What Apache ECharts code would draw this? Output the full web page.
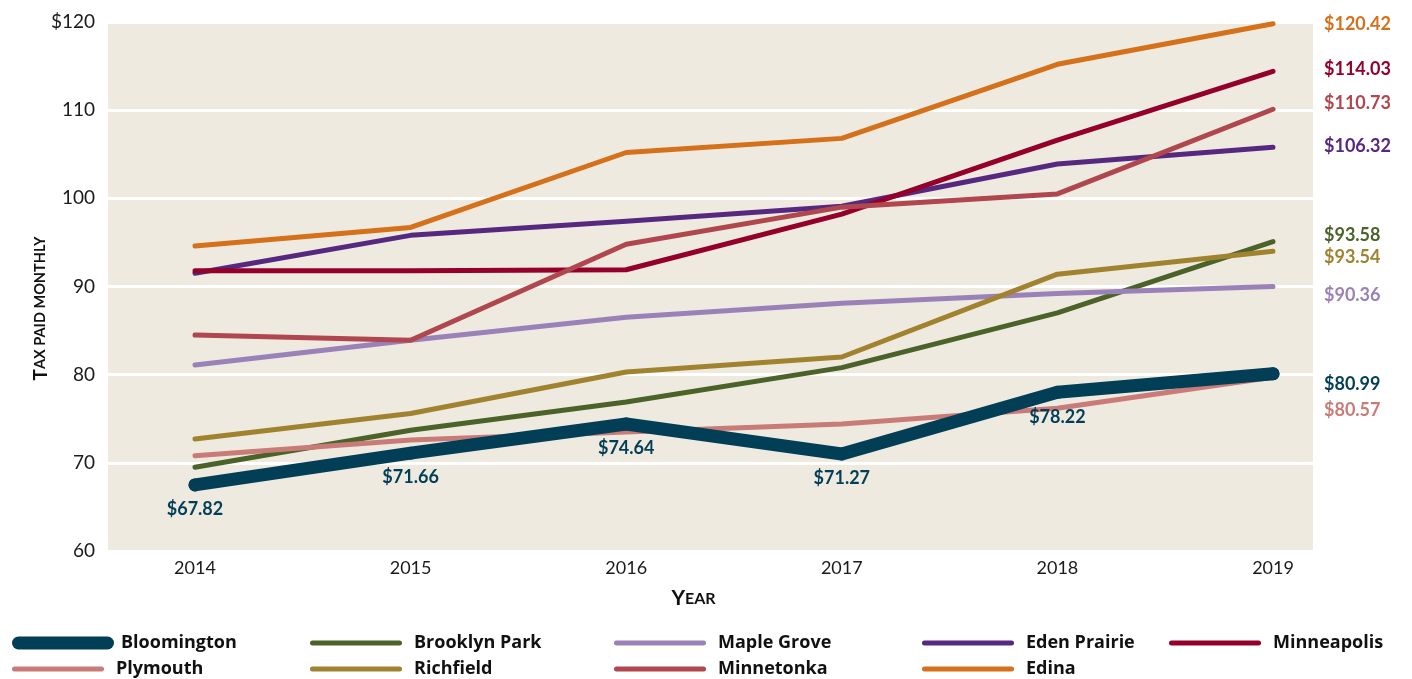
<!DOCTYPE html>
<html>
<head>
<meta charset="utf-8">
<style>
html,body{margin:0;padding:0;background:#fff;}
#chart{width:1412px;height:679px;}
</style>
<script src="https://cdn.jsdelivr.net/npm/echarts@6/dist/echarts.min.js"></script>
</head>
<body>
<div id="chart"></div>
<script>
// ---- data ----
const years = [2014, 2015, 2016, 2017, 2018, 2019];
const yTicks = [60, 70, 80, 90, 100, 110, 120];
const cities = ['Bloomington', 'Brooklyn Park', 'Maple Grove', 'Eden Prairie', 'Minneapolis',
                'Plymouth', 'Richfield', 'Minnetonka', 'Edina'];
const bloomington  = [67.5, 71.1, 74.4, 71.0, 78.0, 80.1];
const brooklynPark = [69.5, 73.7, 76.9, 80.8, 87.0, 95.1];
const mapleGrove   = [81.1, 83.9, 86.5, 88.1, 89.2, 90.0];
const edenPrairie  = [91.5, 95.8, 97.4, 99.1, 103.9, 105.8];
const minneapolis  = [91.8, 91.8, 91.9, 98.2, 106.6, 114.4];
const plymouth     = [70.8, 72.6, 73.5, 74.4, 76.2, 79.7];
const richfield    = [72.7, 75.6, 80.3, 82.0, 91.4, 94.0];
const minnetonka   = [84.5, 83.9, 94.8, 99.0, 100.5, 110.1];
const edina        = [94.6, 96.7, 105.2, 106.8, 115.2, 119.8];
const bloomingtonLabels = ['$67.82', '$71.66', '$74.64', '$71.27', '$78.22', ''];
const endLabels = ['$80.99', '$93.58', '$90.36', '$106.32', '$114.03', '$80.57', '$93.54', '$110.73', '$120.42'];

// ---- styles ----
const values = [bloomington, brooklynPark, mapleGrove, edenPrairie, minneapolis, plymouth, richfield, minnetonka, edina];
const colors = ['#033e57', '#4b6229', '#9a82b9', '#56287f', '#94002a', '#c97b78', '#a1822f', '#b0474e', '#d5701b'];
const widths = [13, 5, 5, 5, 5, 5, 5, 5, 5];
const endDy  = [10, -6, 9, -1, -2, 33, 6, -6, 0];
const legendPos = [[12,634],[310,634],[614,634],[922,634],[1169,634],[12,660],[310,660],[614,660],[922,660]];
const FONT = 'Lato';
const LEGEND_FONT = 'Open Sans';

const thinIcon  = 'path://M2.5,0H89.5A2.5,2.5 0 0 1 89.5,5H2.5A2.5,2.5 0 0 1 2.5,0Z';
const thickIcon = 'path://M6.5,0H95.5A6.5,6.5 0 0 1 95.5,13H6.5A6.5,6.5 0 0 1 6.5,0Z';

const series = cities.map((name, i) => {
  const s = {
    name: name,
    type: 'line',
    data: years.map((y, j) => [y, values[i][j]]),
    color: colors[i],
    showSymbol: false,
    symbol: 'none',
    z: i === 0 ? 10 : 2,
    lineStyle: { width: widths[i], color: colors[i], cap: 'round', join: 'round' },
    emphasis: { disabled: true },
    endLabel: {
      show: true,
      formatter: () => endLabels[i],
      distance: 51,
      offset: [0, endDy[i]],
      color: colors[i],
      fontFamily: FONT,
      fontWeight: 'bold',
      fontSize: 18
    }
  };
  if (i === 0) {
    s.showSymbol = true;
    s.symbol = 'circle';
    s.symbolSize = 13;
    s.itemStyle = { color: colors[0] };
    s.label = {
      show: true,
      position: 'bottom',
      distance: 9,
      formatter: p => bloomingtonLabels[p.dataIndex],
      color: colors[0],
      fontFamily: FONT,
      fontWeight: 'bold',
      fontSize: 18
    };
  }
  return s;
});

const legends = cities.map((name, i) => ({
  left: legendPos[i][0],
  top: legendPos[i][1],
  padding: 0,
  itemWidth: 104,
  itemHeight: i === 0 ? 13 : 5,
  selectedMode: false,
  data: [{ name: name, icon: i === 0 ? thickIcon : thinIcon }],
  textStyle: { fontFamily: LEGEND_FONT, fontWeight: 'bold', fontSize: 18, color: '#111', padding: [0,0,0,1] }
}));

const chart = echarts.init(document.getElementById('chart'));
chart.setOption({
  animation: false,
  backgroundColor: '#ffffff',
  grid: {
    left: 108, right: 99, top: 22, bottom: 128,
    show: true, backgroundColor: '#eeeae0', borderWidth: 0
  },
  legend: legends,
  xAxis: {
    type: 'value',
    min: 2013.5965,
    max: 2019.1855,
    axisLine: { show: false },
    axisTick: { show: false },
    splitLine: { show: false },
    axisLabel: {
      customValues: years,
      formatter: v => String(v),
      margin: 8,
      color: '#1a1a1a',
      fontFamily: FONT,
      fontSize: 18
    },
    name: '{a|Y}{b|EAR}',
    nameLocation: 'middle',
    nameGap: 37,
    nameMoveOverlap: false,
    nameTextStyle: {
      padding: [0, 34, 0, 0],
      rich: {
        a: { fontFamily: FONT, fontWeight: 'bold', fontSize: 21, color: '#111' },
        b: { fontFamily: FONT, fontWeight: 'bold', fontSize: 16, color: '#111' }
      }
    }
  },
  yAxis: {
    type: 'value',
    min: yTicks[0],
    max: yTicks[yTicks.length - 1],
    interval: 10,
    axisLine: { show: false },
    axisTick: { show: false },
    splitLine: { show: true, lineStyle: { color: '#ffffff', width: 3 } },
    axisLabel: {
      formatter: v => (v === 120 ? '$' + v : String(v)),
      margin: 13,
      color: '#1a1a1a',
      fontFamily: FONT,
      fontSize: 19
    },
    name: '{a|T}{b|AX PAID MONTHLY}',
    nameLocation: 'middle',
    nameGap: 58,
    nameMoveOverlap: false,
    nameRotate: 90,
    nameTextStyle: {
      padding: [0, 44, 0, 0],
      rich: {
        a: { fontFamily: FONT, fontWeight: 'bold', fontSize: 19, color: '#111' },
        b: { fontFamily: FONT, fontWeight: 'bold', fontSize: 14.5, color: '#111' }
      }
    }
  },
  series: series
});
</script>
</body>
</html>
